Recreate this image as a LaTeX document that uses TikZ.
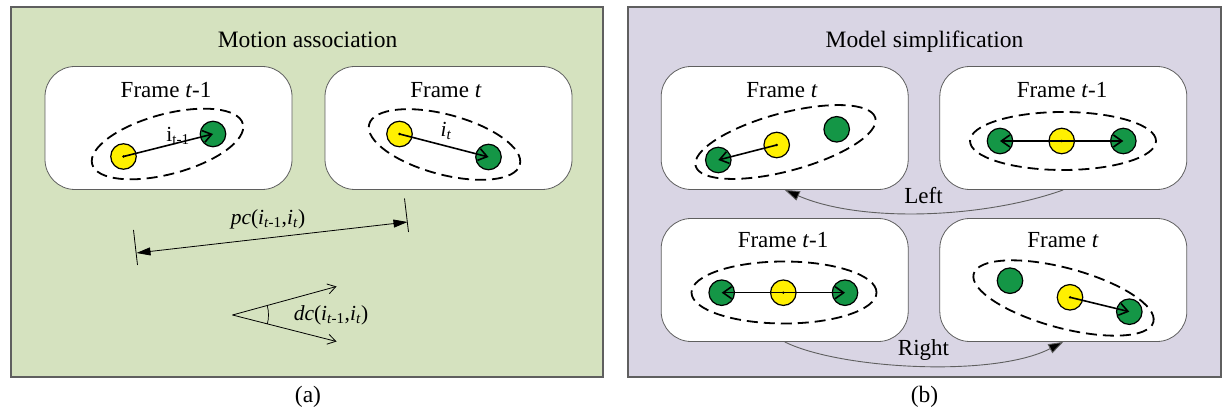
\documentclass[tikz,border=0pt]{standalone}
\usepackage{fontspec}
\setmainfont{Liberation Serif}
\usetikzlibrary{arrows.meta,shapes.geometric}
\definecolor{panelgreen}{RGB}{213,226,191}
\definecolor{panelviolet}{RGB}{217,213,228}
\definecolor{dotgreen}{RGB}{20,150,70}
\definecolor{dotyellow}{RGB}{255,240,0}
\definecolor{edgegray}{RGB}{95,95,95}
\begin{document}
\begin{tikzpicture}[x=1pt,y=-1pt,
  panel/.style={draw=edgegray, line width=1.2pt},
  framebox/.style={draw=edgegray, fill=white, rounded corners=30pt,
    minimum width=247pt, minimum height=123pt, inner sep=0pt, line width=0.8pt},
  heading/.style={inner sep=0pt, anchor=base, font=\fontsize{23.5}{26}\selectfont},
  lbl/.style={inner sep=0pt, anchor=base, font=\fontsize{23}{25}\selectfont},
  math/.style={inner sep=0pt, font=\fontsize{21.5}{24}\selectfont},
  gdot/.style={circle, draw=black, fill=dotgreen, line width=1.2pt,
    minimum size=25.5pt, inner sep=0pt},
  ydot/.style={circle, draw=black, fill=dotyellow, line width=1.2pt,
    minimum size=25.5pt, inner sep=0pt},
  group/.style={ellipse, draw=black, dash pattern=on 11pt off 6pt,
    line width=1.8pt, inner sep=0pt},
  link/.style={line width=1.6pt,
    -{Straight Barb[length=8.5pt,width=12pt,line width=1.6pt]}},
  dimline/.style={line width=0.8pt,
    {Triangle[length=14pt,width=8pt]}-{Triangle[length=14pt,width=8pt]}},
  tick/.style={line width=0.8pt},
  ray/.style={line width=0.8pt, -{Straight Barb[length=8pt,width=10pt]}},
  swap/.style={draw=edgegray, line width=0.9pt, -{Triangle[length=15pt,width=10pt,fill=black]}},
]
% canvas
\fill[white] (0,0) rectangle (1225,411);
\useasboundingbox (0,0) rectangle (1225,411);

% ---------- panel (a): motion association ----------
\draw[panel, fill=panelgreen] (11,7) rectangle (603,377);
\node[heading] (titleA) at (307.5,47.5) {Motion association};

\node[framebox] (fa1) at (168.5,128) {};
\node[framebox] (fa2) at (448.5,128) {};
\node[lbl] (ta1) at (166,97.5) {Frame \textit{t}-1};
\node[lbl] (ta2) at (446,97.5) {Frame \textit{t}};

\node[group, minimum width=156, minimum height=60, rotate=15] (ea1) at (167.5,144) {};
\node[group, minimum width=156, minimum height=60, rotate=-15] (ea2) at (444.5,144.5) {};

\node[ydot] (ya1) at (123.5,156.5) {};
\node[gdot] (ga1) at (213,134) {};
\node[ydot] (ya2) at (399.5,134) {};
\node[gdot] (ga2) at (488.5,157) {};
\draw[link] (ya1.center) -- (ga1.center);
\draw[link] (ya2.center) -- (ga2.center);
\fill (ya1.center) circle[radius=1.3];
\fill (ya2.center) circle[radius=1.3];
\node[math] (la1) at (178,136) {i\textsubscript{t-1}};
\node[math] (la2) at (446,131) {\textit{i}\textsubscript{\textit{t}}};

% position change
\coordinate (pcL) at (136.5,253);
\coordinate (pcR) at (407.5,222);
\coordinate (pcLt) at (133.5,230);
\coordinate (pcLb) at (137.5,265);
\coordinate (pcRt) at (404.5,198.5);
\coordinate (pcRb) at (408.5,232);
\draw[tick] (pcLt) -- (pcLb);
\draw[tick] (pcRt) -- (pcRb);
\draw[dimline] (pcL) -- (pcR);
\node[math] (pc) at (268,219)
  {\textit{pc}(\textit{i}\textsubscript{\textit{t}-1},\textit{i}\textsubscript{\textit{t}})};

% direction change
\coordinate (V) at (232.5,315);
\coordinate (U) at (336.5,286.5);
\coordinate (D) at (336.5,341.5);
\draw[ray] (V) -- (U);
\draw[ray] (V) -- (D);
\draw[line width=0.7pt] (V) ++(14.3:36) arc[start angle=14.3, end angle=-15.3, radius=36];
\node[math] (dc) at (331,315)
  {\textit{dc}(\textit{i}\textsubscript{\textit{t}-1},\textit{i}\textsubscript{\textit{t}})};

\node[heading] (capA) at (308,402) {(a)};

% ---------- panel (b): model simplification ----------
\draw[panel, fill=panelviolet] (628,7) rectangle (1221,377);
\node[heading] (titleB) at (924.5,47.5) {Model simplification};

\node[framebox] (fTL) at (784.7,128) {};
\node[framebox] (fTR) at (1063.3,128) {};
\node[framebox] (fBL) at (784.7,280) {};
\node[framebox] (fBR) at (1063.3,280) {};
\node[lbl] (tTL) at (782,97.5) {Frame \textit{t}};
\node[lbl] (tTR) at (1062,97.5) {Frame \textit{t}-1};
\node[lbl] (tBL) at (783,248) {Frame \textit{t}-1};
\node[lbl] (tBR) at (1063,248) {Frame \textit{t}};

\node[group, minimum width=186, minimum height=58, rotate=15] (eTL) at (785.5,142) {};
\node[group, minimum width=186, minimum height=58] (eTR) at (1063,141) {};
\node[group, minimum width=185, minimum height=62] (eBL) at (784,292.5) {};
\node[group, minimum width=186, minimum height=60, rotate=-15] (eBR) at (1063.5,298) {};

% top left: frame t
\node[gdot] (gTL1) at (718.3,160) {};
\node[ydot] (yTL) at (776.7,145) {};
\node[gdot] (gTL2) at (836.7,129.3) {};
\draw[link] (yTL.center) -- (gTL1.center);
\fill (yTL.center) circle[radius=1.3];

% top right: frame t-1
\node[gdot] (gTR1) at (1000,141) {};
\node[ydot] (yTR) at (1061.7,141) {};
\node[gdot] (gTR2) at (1123.3,141) {};
\draw[link] (yTR.center) -- (gTR1.center);
\draw[link] (yTR.center) -- (gTR2.center);
\fill (yTR.center) circle[radius=1.3];

% bottom left: frame t-1
\node[gdot] (gBL1) at (721.7,292.7) {};
\node[ydot] (yBL) at (783.3,292.7) {};
\node[gdot] (gBL2) at (845,292.7) {};
\draw[link] (yBL.center) -- (gBL1.center);
\draw[link] (yBL.center) -- (gBL2.center);
\fill (yBL.center) circle[radius=1.3];

% bottom right: frame t
\node[gdot] (gBR1) at (1010,280.7) {};
\node[ydot] (yBR) at (1070,297.3) {};
\node[gdot] (gBR2) at (1129.3,311.7) {};
\draw[link] (yBR.center) -- (gBR2.center);
\fill (yBR.center) circle[radius=1.3];

% left / right transitions
\draw[swap] (fTR.south) .. controls (985,218) and (862,223.5) .. (fTL.south);
\node[lbl] (left) at (923.5,204) {Left};
\draw[swap] (fBL.south) .. controls (839,369) and (993,378) .. (fBR.south);
\node[lbl] (right) at (923.5,355) {Right};

\node[heading] (capB) at (924.5,402) {(b)};
\end{tikzpicture}
\end{document}
